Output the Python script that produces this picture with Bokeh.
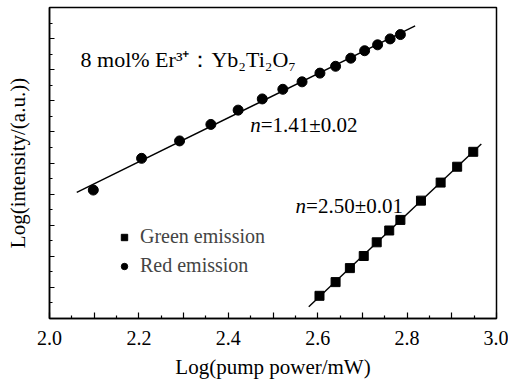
import numpy as np
from bokeh.plotting import figure
from bokeh.models import (Range1d, FixedTicker, CustomJSTickFormatter, Label,
                          Legend, LegendItem)
from bokeh.embed import file_html
from bokeh.resources import INLINE

# ---- data ----
red_x = [2.098, 2.206, 2.291, 2.361, 2.422, 2.476, 2.522, 2.565, 2.605, 2.640,
         2.674, 2.705, 2.734, 2.762, 2.785]
red_y = [4.13, 5.15, 5.71, 6.24, 6.70, 7.06, 7.37, 7.61, 7.89, 8.11,
         8.37, 8.61, 8.80, 8.99, 9.13]
green_x = [2.604, 2.640, 2.672, 2.703, 2.732, 2.760, 2.785, 2.831, 2.875,
           2.912, 2.948]
green_y = [0.73, 1.17, 1.62, 2.01, 2.45, 2.83, 3.17, 3.79, 4.37, 4.88, 5.36]
red_fit_span = [2.061, 2.818]
green_fit_span = [2.580, 2.966]
red_slope_text = "=1.41\u00b10.02"
green_slope_text = "=2.50\u00b10.01"
sample_text = "8 mol% Er\u00b3\u207a\uff1aYb\u2082Ti\u2082O\u2087"
legend_labels = ["Green emission", "Red emission"]
x_label = "Log(pump power/mW)"
y_label = "Log(intensity/(a.u.))"

FONT = "Liberation Serif"

p = figure(output_backend="svg", toolbar_location=None,
           x_range=Range1d(2.0, 3.0), y_range=Range1d(0, 10),
           frame_width=447, frame_height=311,
           min_border_left=49, min_border_top=7, min_border_right=12,
           min_border_bottom=10)
p.background_fill_color = "white"
p.border_fill_color = "white"
p.grid.visible = False
p.outline_line_color = "black"
p.outline_line_width = 1.5
p.outline_line_alpha = 1.0

# fit lines
rf = np.polyfit(red_x, red_y, 1)
gf = np.polyfit(green_x, green_y, 1)
rx = np.array(red_fit_span)
gx = np.array(green_fit_span)
p.line(rx, np.polyval(rf, rx), line_color="black", line_width=1.4)
p.line(gx, np.polyval(gf, gx), line_color="black", line_width=1.4)

g = p.scatter(green_x, green_y, marker="square", size=9, color="black")
r = p.scatter(red_x, red_y, marker="circle", size=10, color="black")

legend = Legend(items=[LegendItem(label=legend_labels[0], renderers=[g]),
                       LegendItem(label=legend_labels[1], renderers=[r])],
                location=(67, 41), background_fill_alpha=0,
                border_line_color=None, padding=0, margin=0, spacing=6,
                glyph_width=16, glyph_height=20, label_height=20,
                label_standoff=8, label_text_font=FONT,
                label_text_font_size="20px")
p.add_layout(legend, "center")

# axes
xticks = [round(v, 2) for v in np.arange(2.0, 3.001, 0.1)]
xminor = [round(v + 0.05, 2) for v in xticks[:-1]]
p.xaxis.ticker = FixedTicker(ticks=xticks, minor_ticks=xminor)
p.xaxis.formatter = CustomJSTickFormatter(
    code="return (Math.round(tick*10) % 2 == 0) ? tick.toFixed(1) : '';")
yticks = list(range(0, 11))
yminor = [v + 0.5 for v in yticks[:-1]]
p.yaxis.ticker = FixedTicker(ticks=yticks, minor_ticks=yminor)
p.yaxis.formatter = CustomJSTickFormatter(code="return '';")

for ax in (p.xaxis[0], p.yaxis[0]):
    ax.axis_line_color = "black"
    ax.axis_line_width = 1.5
    ax.major_tick_line_color = "black"
    ax.minor_tick_line_color = "black"
    ax.major_tick_line_width = 1.2
    ax.minor_tick_line_width = 1.2
    ax.major_tick_out = 0
    ax.minor_tick_out = 0
    ax.major_label_text_font = FONT
    ax.major_label_text_font_size = "20px"
    ax.major_label_text_color = "black"
    ax.axis_label_text_font = FONT
    ax.axis_label_text_font_size = "21px"
    ax.axis_label_text_font_style = "normal"
    ax.axis_label_text_color = "black"

p.xaxis.major_tick_in = 6
p.xaxis.minor_tick_in = 3
p.yaxis.major_tick_in = 5
p.yaxis.minor_tick_in = 3
p.xaxis.axis_label = x_label
p.yaxis.axis_label = y_label
p.xaxis.major_label_standoff = 12
p.xaxis.axis_label_standoff = 7
p.yaxis.axis_label_standoff = 20

# annotations
p.add_layout(Label(x=2.0695, y=8.34, text=sample_text, text_font=FONT,
                   text_font_size="22px", text_baseline="alphabetic",
                   text_color="black"))
p.add_layout(Label(x=2.449, y=6.21, text="n", text_font=FONT,
                   text_font_style="italic", text_font_size="21px",
                   text_baseline="alphabetic", text_color="black"))
p.add_layout(Label(x=2.449, y=6.21, x_offset=10.5, text=red_slope_text,
                   text_font=FONT, text_font_size="21px",
                   text_baseline="alphabetic", text_color="black"))
p.add_layout(Label(x=2.5505, y=3.62, text="n", text_font=FONT,
                   text_font_style="italic", text_font_size="21px",
                   text_baseline="alphabetic", text_color="black"))
p.add_layout(Label(x=2.5505, y=3.62, x_offset=10.5, text=green_slope_text,
                   text_font=FONT, text_font_size="21px",
                   text_baseline="alphabetic", text_color="black"))

open("out.html", "w").write(file_html(p, INLINE))
